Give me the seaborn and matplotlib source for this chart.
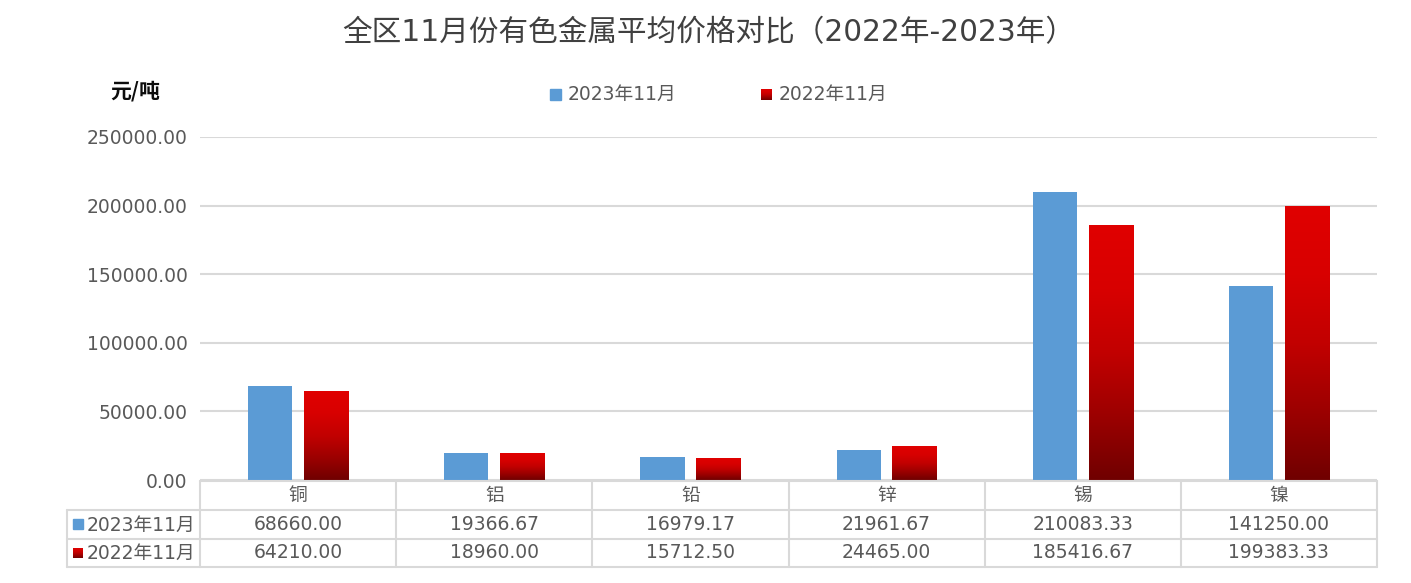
import numpy as np
import pandas as pd
import matplotlib
matplotlib.use('Agg')
import matplotlib.pyplot as plt
import seaborn as sns
from matplotlib.colors import LinearSegmentedColormap
from matplotlib.lines import Line2D
from matplotlib.patches import Rectangle
from matplotlib.transforms import blended_transform_factory

# data
metals = ['铜', '铝', '铅', '锌', '锡', '镍']
series = ['2023年11月', '2022年11月']
price_2023 = [68660.00, 19366.67, 16979.17, 21961.67, 210083.33, 141250.00]
price_2022 = [64210.00, 18960.00, 15712.50, 24465.00, 185416.67, 199383.33]
yticks = [0, 50000, 100000, 150000, 200000, 250000]

BLUE = '#5B9BD5'
GRID = '#D9D9D9'
TXT = '#595959'
FS = 13.5
red_cmap = LinearSegmentedColormap.from_list(
    'red_grad', [(0, '#E00000'), (0.25, '#D80000'), (0.5, '#C20000'),
                 (0.75, '#9C0000'), (1, '#700000')])
grad = np.linspace(0, 1, 256).reshape(-1, 1)

sns.set_style('white')
plt.rcParams['font.family'] = ['DejaVu Sans', 'Noto Sans CJK SC']
CJK = ['Noto Sans CJK SC', 'DejaVu Sans']

W, H = 1411, 583
fig = plt.figure(figsize=(W / 100, H / 100), dpi=100)
ax = fig.add_axes([200 / W, 1 - 480 / H, 1177 / W, 343 / H])

df = pd.DataFrame({
    'metal': metals * 2,
    'series': [series[0]] * len(metals) + [series[1]] * len(metals),
    'price': price_2023 + price_2022,
})
sns.barplot(data=df, x='metal', y='price', hue='series', palette=[BLUE, '#C00000'],
            width=0.57, gap=0.21, saturation=1, errorbar=None, legend=False,
            linewidth=0, ax=ax)

# red bars get a vertical gradient
for bar in ax.containers[1]:
    x0, w, h = bar.get_x(), bar.get_width(), bar.get_height()
    ax.imshow(grad, cmap=red_cmap, extent=[x0, x0 + w, 0, h], aspect='auto',
              origin='upper', zorder=bar.get_zorder())
    bar.set_visible(False)

ax.set_xlim(-0.5, len(metals) - 0.5)
ax.set_ylim(0, 250000)
ax.set_yticks(yticks)
ax.set_yticklabels([f'{v:.2f}' for v in yticks], fontsize=FS, color=TXT)
ax.tick_params(axis='y', length=0, pad=9)
ax.set_xticks([])
ax.set_xlabel('')
ax.set_ylabel('')
ax.yaxis.grid(True, color=GRID, lw=1.5)
ax.set_axisbelow(True)
for s in ax.spines.values():
    s.set_visible(False)

# data table under the axis
trans = blended_transform_factory(ax.transData, fig.transFigure)
fy = lambda py: 1 - py / H
n = len(metals)
x_right = ax.get_position().x1
lc = dict(color=GRID, lw=1.5)
fig.add_artist(Line2D([-0.5, n - 0.5], [fy(481), fy(481)], transform=trans, **lc))
for py in [510, 539, 567]:
    fig.add_artist(Line2D([67 / W, x_right], [fy(py), fy(py)], transform=fig.transFigure, **lc))
for e in np.arange(n + 1) - 0.5:
    fig.add_artist(Line2D([e, e], [fy(481), fy(567)], transform=trans, **lc))
fig.add_artist(Line2D([67 / W, 67 / W], [fy(510), fy(567)], transform=fig.transFigure, **lc))

for i, m in enumerate(metals):
    fig.text(i, fy(495), m, transform=trans, ha='center', va='center',
             fontsize=FS, color=TXT, family=CJK)
    fig.text(i, fy(525), f'{price_2023[i]:.2f}', transform=trans, ha='center', va='center',
             fontsize=FS, color=TXT)
    fig.text(i, fy(553), f'{price_2022[i]:.2f}', transform=trans, ha='center', va='center',
             fontsize=FS, color=TXT)


def grad_square(px, py, s):
    a = fig.add_axes([px / W, 1 - (py + s) / H, s / W, s / H])
    a.imshow(grad, cmap=red_cmap, aspect='auto')
    a.axis('off')


# row labels
fig.add_artist(Rectangle((73 / W, fy(529)), 10 / W, 10 / H, color=BLUE, transform=fig.transFigure))
grad_square(73, 548, 10)
fig.text(87 / W, fy(525), series[0], ha='left', va='center', fontsize=FS, color=TXT)
fig.text(87 / W, fy(553), series[1], ha='left', va='center', fontsize=FS, color=TXT)

# legend
fig.add_artist(Rectangle((550 / W, fy(100)), 11 / W, 11 / H, color=BLUE, transform=fig.transFigure))
grad_square(761, 89, 11)
fig.text(568 / W, fy(94.5), series[0], ha='left', va='center', fontsize=FS, color=TXT)
fig.text(779 / W, fy(94.5), series[1], ha='left', va='center', fontsize=FS, color=TXT)

# unit and title
fig.text(110 / W, fy(91), '元/吨', ha='left', va='center', fontsize=15,
         fontweight='bold', color='#0D0D0D', family=CJK)
fig.text(709 / W, fy(33), '全区11月份有色金属平均价格对比（2022年-2023年）',
         ha='center', va='center', fontsize=21.3, color='#404040')

fig.savefig('out.png', dpi=100)
